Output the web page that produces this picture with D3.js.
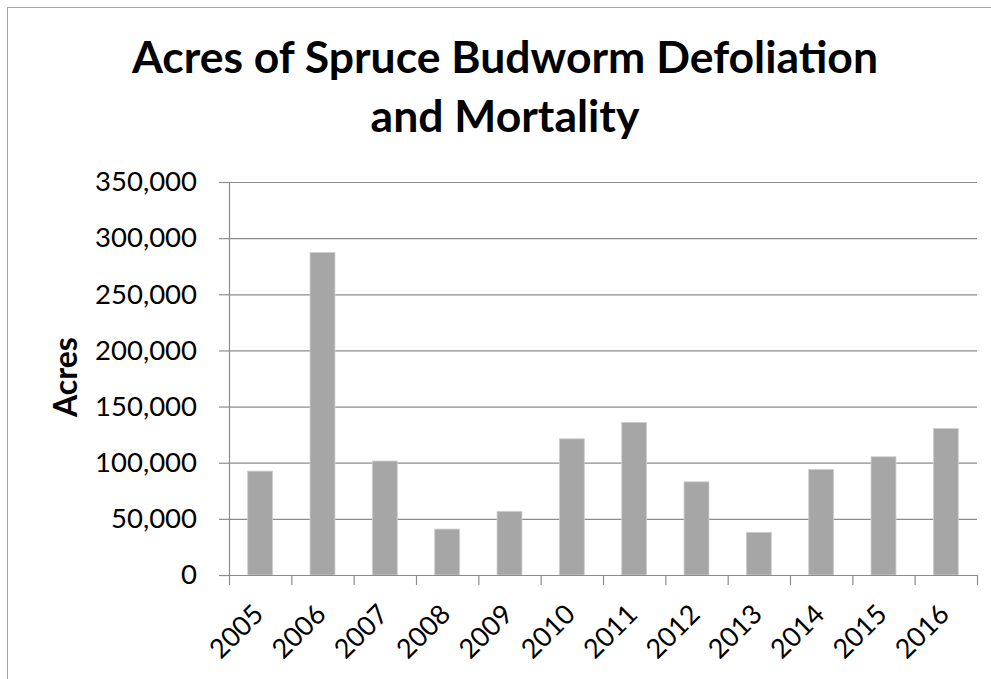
<!DOCTYPE html>
<html>
<head>
<meta charset="utf-8">
<script src="https://cdn.jsdelivr.net/npm/d3@7"></script>
<style>
  body { margin: 0; background: #fff; }
  text { font-family: Lato, "Liberation Sans", sans-serif; fill: #000; }
</style>
</head>
<body>
<script>
var years = ["2005","2006","2007","2008","2009","2010","2011","2012","2013","2014","2015","2016"];
var acres = [92500, 287200, 101500, 40900, 56700, 121300, 135900, 83000, 38000, 94000, 105300, 130500];
var yTicks = [0, 50000, 100000, 150000, 200000, 250000, 300000, 350000];
var titleLines = ["Acres of Spruce Budworm Defoliation", "and Mortality"];

var W = 991, H = 679;
var margin = {top: 182, right: 14, bottom: 104, left: 229},
    width = W - margin.left - margin.right,
    height = H - margin.top - margin.bottom;

var svg = d3.select("body").append("svg")
    .attr("width", W)
    .attr("height", H);

// outer chart frame
svg.append("rect")
    .attr("x", 7.5).attr("y", 7.5)
    .attr("width", W + 20).attr("height", H + 20)
    .attr("fill", "none")
    .attr("stroke", "#a6a6a6");

svg.selectAll(".title")
    .data(titleLines)
    .enter().append("text")
    .attr("class", "title")
    .attr("x", 505)
    .attr("y", function(d, i) { return 73 + i * 59; })
    .attr("text-anchor", "middle")
    .style("font-weight", "bold")
    .style("font-size", "44.5px")
    .text(function(d) { return d; });

var g = svg.append("g")
    .attr("transform", "translate(" + margin.left + "," + margin.top + ")");

var x = d3.scaleBand().domain(years).range([0, width]).paddingInner(0.6).paddingOuter(0.3);
var xEdge = d3.scaleLinear().domain([0, years.length]).range([0, width]);
var y = d3.scaleLinear().domain([0, 350000]).range([height, 0]);

// gridlines
g.append("g")
    .attr("class", "grid")
    .call(d3.axisLeft(y).tickValues(yTicks).tickSize(-width).tickFormat(""))
    .call(function(s) {
      s.select(".domain").remove();
      s.selectAll("line").attr("stroke", "#8c8c8c").attr("stroke-width", 1.2);
    });

// y axis
g.append("g")
    .call(d3.axisLeft(y).tickValues(yTicks).tickSize(10).tickSizeOuter(0).tickPadding(22).tickFormat(d3.format(",")))
    .call(function(s) {
      s.select(".domain").attr("stroke", "#8c8c8c").attr("stroke-width", 1.2);
      s.selectAll("line").attr("stroke", "#8c8c8c").attr("stroke-width", 1.2);
      s.selectAll("text").style("font-size", "27.5px").style("font-family", "Lato, sans-serif");
    });

// bars
g.selectAll(".bar")
    .data(acres)
    .enter().append("rect")
    .attr("class", "bar")
    .attr("x", function(d, i) { return x(years[i]); })
    .attr("width", x.bandwidth())
    .attr("y", function(d) { return y(d); })
    .attr("height", function(d) { return height - y(d); })
    .attr("fill", "#a6a6a6")
    .attr("stroke", "#cfcfcf")
    .attr("stroke-width", 0.8);

// x axis with ticks between categories
g.append("g")
    .attr("transform", "translate(0," + height + ")")
    .call(d3.axisBottom(xEdge).tickValues(d3.range(years.length + 1)).tickSize(10).tickSizeOuter(0).tickFormat(""))
    .call(function(s) {
      s.select(".domain").attr("stroke", "#8c8c8c").attr("stroke-width", 1.2);
      s.selectAll("line").attr("stroke", "#8c8c8c").attr("stroke-width", 1.2);
    });

g.selectAll(".xlabel")
    .data(years)
    .enter().append("text")
    .attr("class", "xlabel")
    .attr("transform", function(d) {
      return "translate(" + (x(d) + x.bandwidth() / 2 + 5) + "," + (height + 41) + ") rotate(-45)";
    })
    .attr("text-anchor", "end")
    .style("font-size", "27px")
    .text(function(d) { return d; });

// y axis title
svg.append("text")
    .attr("transform", "translate(77,377) rotate(-90)")
    .attr("text-anchor", "middle")
    .style("font-weight", "bold")
    .style("font-size", "32px")
    .text("Acres");
</script>
</body>
</html>
